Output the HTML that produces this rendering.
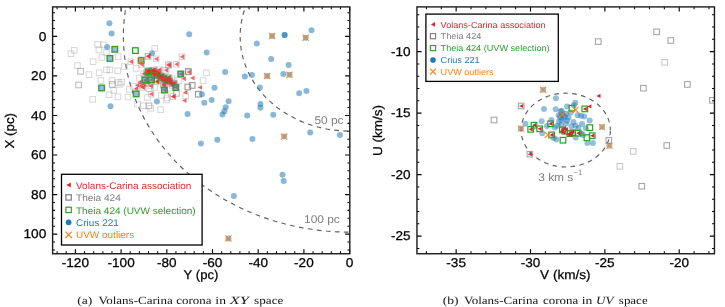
<!DOCTYPE html>
<html><head><meta charset="utf-8"><style>
html,body{margin:0;padding:0;background:#fff;overflow:hidden}
svg{display:block;position:absolute;left:0;top:0}
#m{will-change:transform}
text{font-family:"Liberation Sans",sans-serif;text-rendering:geometricPrecision}
</style></head><body>
<svg id="m" width="725" height="307" viewBox="0 0 725 307">
<clipPath id="cl"><rect x="52.6" y="6.9" width="297.2" height="246.85"/></clipPath>
<clipPath id="cr"><rect x="416.95" y="6.9" width="297.50000000000006" height="246.85"/></clipPath>
<g clip-path="url(#cl)">
<ellipse cx="349.60" cy="36.40" rx="109.45" ry="94.70" fill="none" stroke="#626262" stroke-width="1.15" stroke-dasharray="4.7 4.33" stroke-dashoffset="0.58"/>
<ellipse cx="349.60" cy="36.40" rx="226.22" ry="195.72" fill="none" stroke="#626262" stroke-width="1.15" stroke-dasharray="4.7 4.33" stroke-dashoffset="1.31"/>
<rect x="94.90" y="41.60" width="5.60" height="5.60" fill="none" fill-opacity="0.5" stroke="#7f7f7f" stroke-width="1.0" stroke-opacity="0.31"/>
<rect x="101.20" y="42.10" width="5.60" height="5.60" fill="none" fill-opacity="0.5" stroke="#7f7f7f" stroke-width="1.0" stroke-opacity="0.31"/>
<rect x="96.10" y="47.00" width="5.60" height="5.60" fill="none" fill-opacity="0.5" stroke="#7f7f7f" stroke-width="1.0" stroke-opacity="0.31"/>
<rect x="71.40" y="47.50" width="5.60" height="5.60" fill="none" fill-opacity="0.5" stroke="#7f7f7f" stroke-width="1.0" stroke-opacity="0.31"/>
<rect x="68.20" y="50.90" width="5.60" height="5.60" fill="none" fill-opacity="0.5" stroke="#7f7f7f" stroke-width="1.0" stroke-opacity="0.31"/>
<rect x="99.10" y="54.60" width="5.60" height="5.60" fill="none" fill-opacity="0.5" stroke="#7f7f7f" stroke-width="1.0" stroke-opacity="0.31"/>
<rect x="103.70" y="49.70" width="5.60" height="5.60" fill="none" fill-opacity="0.5" stroke="#7f7f7f" stroke-width="1.0" stroke-opacity="0.31"/>
<rect x="115.40" y="53.80" width="5.60" height="5.60" fill="none" fill-opacity="0.5" stroke="#7f7f7f" stroke-width="1.0" stroke-opacity="0.31"/>
<rect x="90.30" y="58.90" width="5.60" height="5.60" fill="none" fill-opacity="0.5" stroke="#7f7f7f" stroke-width="1.0" stroke-opacity="0.31"/>
<rect x="74.60" y="62.80" width="5.60" height="5.60" fill="none" fill-opacity="0.5" stroke="#7f7f7f" stroke-width="1.0" stroke-opacity="0.31"/>
<rect x="121.60" y="63.80" width="5.60" height="5.60" fill="none" fill-opacity="0.5" stroke="#7f7f7f" stroke-width="1.0" stroke-opacity="0.31"/>
<rect x="152.00" y="45.60" width="5.60" height="5.60" fill="none" fill-opacity="0.5" stroke="#7f7f7f" stroke-width="1.0" stroke-opacity="0.31"/>
<rect x="133.40" y="65.70" width="5.60" height="5.60" fill="none" fill-opacity="0.5" stroke="#7f7f7f" stroke-width="1.0" stroke-opacity="0.31"/>
<rect x="77.80" y="68.50" width="5.60" height="5.60" fill="none" fill-opacity="0.5" stroke="#7f7f7f" stroke-width="1.0" stroke-opacity="0.31"/>
<rect x="77.80" y="68.50" width="5.60" height="5.60" fill="none" fill-opacity="0.5" stroke="#7f7f7f" stroke-width="1.0" stroke-opacity="0.31"/>
<rect x="86.10" y="71.80" width="5.60" height="5.60" fill="none" fill-opacity="0.5" stroke="#7f7f7f" stroke-width="1.0" stroke-opacity="0.31"/>
<rect x="96.30" y="70.00" width="5.60" height="5.60" fill="none" fill-opacity="0.5" stroke="#7f7f7f" stroke-width="1.0" stroke-opacity="0.31"/>
<rect x="103.70" y="67.10" width="5.60" height="5.60" fill="none" fill-opacity="0.5" stroke="#7f7f7f" stroke-width="1.0" stroke-opacity="0.31"/>
<rect x="107.10" y="67.10" width="5.60" height="5.60" fill="none" fill-opacity="0.5" stroke="#7f7f7f" stroke-width="1.0" stroke-opacity="0.31"/>
<rect x="114.90" y="68.00" width="5.60" height="5.60" fill="none" fill-opacity="0.5" stroke="#7f7f7f" stroke-width="1.0" stroke-opacity="0.31"/>
<rect x="98.10" y="77.80" width="5.60" height="5.60" fill="none" fill-opacity="0.5" stroke="#7f7f7f" stroke-width="1.0" stroke-opacity="0.31"/>
<rect x="109.10" y="77.80" width="5.60" height="5.60" fill="none" fill-opacity="0.5" stroke="#7f7f7f" stroke-width="1.0" stroke-opacity="0.31"/>
<rect x="109.50" y="81.70" width="5.60" height="5.60" fill="none" fill-opacity="0.5" stroke="#7f7f7f" stroke-width="1.0" stroke-opacity="0.31"/>
<rect x="109.50" y="81.70" width="5.60" height="5.60" fill="none" fill-opacity="0.5" stroke="#7f7f7f" stroke-width="1.0" stroke-opacity="0.31"/>
<rect x="115.40" y="79.80" width="5.60" height="5.60" fill="none" fill-opacity="0.5" stroke="#7f7f7f" stroke-width="1.0" stroke-opacity="0.31"/>
<rect x="118.80" y="79.30" width="5.60" height="5.60" fill="none" fill-opacity="0.5" stroke="#7f7f7f" stroke-width="1.0" stroke-opacity="0.31"/>
<rect x="75.80" y="82.20" width="5.60" height="5.60" fill="none" fill-opacity="0.5" stroke="#7f7f7f" stroke-width="1.0" stroke-opacity="0.31"/>
<rect x="75.80" y="82.20" width="5.60" height="5.60" fill="none" fill-opacity="0.5" stroke="#7f7f7f" stroke-width="1.0" stroke-opacity="0.31"/>
<rect x="111.00" y="87.60" width="5.60" height="5.60" fill="none" fill-opacity="0.5" stroke="#7f7f7f" stroke-width="1.0" stroke-opacity="0.31"/>
<rect x="126.60" y="86.60" width="5.60" height="5.60" fill="none" fill-opacity="0.5" stroke="#7f7f7f" stroke-width="1.0" stroke-opacity="0.31"/>
<rect x="89.90" y="96.60" width="5.60" height="5.60" fill="none" fill-opacity="0.5" stroke="#7f7f7f" stroke-width="1.0" stroke-opacity="0.31"/>
<rect x="106.30" y="91.90" width="5.60" height="5.60" fill="none" fill-opacity="0.5" stroke="#7f7f7f" stroke-width="1.0" stroke-opacity="0.31"/>
<rect x="115.10" y="94.00" width="5.60" height="5.60" fill="none" fill-opacity="0.5" stroke="#7f7f7f" stroke-width="1.0" stroke-opacity="0.31"/>
<rect x="134.70" y="101.30" width="5.60" height="5.60" fill="none" fill-opacity="0.5" stroke="#7f7f7f" stroke-width="1.0" stroke-opacity="0.31"/>
<rect x="117.20" y="81.60" width="5.60" height="5.60" fill="none" fill-opacity="0.5" stroke="#7f7f7f" stroke-width="1.0" stroke-opacity="0.31"/>
<rect x="140.40" y="103.00" width="5.60" height="5.60" fill="none" fill-opacity="0.5" stroke="#7f7f7f" stroke-width="1.0" stroke-opacity="0.31"/>
<rect x="146.20" y="103.00" width="5.60" height="5.60" fill="none" fill-opacity="0.5" stroke="#7f7f7f" stroke-width="1.0" stroke-opacity="0.31"/>
<rect x="146.20" y="103.00" width="5.60" height="5.60" fill="none" fill-opacity="0.5" stroke="#7f7f7f" stroke-width="1.0" stroke-opacity="0.31"/>
<rect x="147.90" y="105.50" width="5.60" height="5.60" fill="none" fill-opacity="0.5" stroke="#7f7f7f" stroke-width="1.0" stroke-opacity="0.31"/>
<rect x="157.80" y="106.80" width="5.60" height="5.60" fill="none" fill-opacity="0.5" stroke="#7f7f7f" stroke-width="1.0" stroke-opacity="0.31"/>
<rect x="163.60" y="97.20" width="5.60" height="5.60" fill="none" fill-opacity="0.5" stroke="#7f7f7f" stroke-width="1.0" stroke-opacity="0.31"/>
<rect x="144.60" y="94.70" width="5.60" height="5.60" fill="none" fill-opacity="0.5" stroke="#7f7f7f" stroke-width="1.0" stroke-opacity="0.31"/>
<rect x="164.40" y="95.10" width="5.60" height="5.60" fill="none" fill-opacity="0.5" stroke="#7f7f7f" stroke-width="1.0" stroke-opacity="0.31"/>
<rect x="173.50" y="90.50" width="5.60" height="5.60" fill="none" fill-opacity="0.5" stroke="#7f7f7f" stroke-width="1.0" stroke-opacity="0.31"/>
<rect x="158.60" y="92.60" width="5.60" height="5.60" fill="none" fill-opacity="0.5" stroke="#7f7f7f" stroke-width="1.0" stroke-opacity="0.31"/>
<rect x="130.50" y="83.50" width="5.60" height="5.60" fill="none" fill-opacity="0.5" stroke="#7f7f7f" stroke-width="1.0" stroke-opacity="0.31"/>
<rect x="136.70" y="75.30" width="5.60" height="5.60" fill="none" fill-opacity="0.5" stroke="#7f7f7f" stroke-width="1.0" stroke-opacity="0.31"/>
<rect x="169.00" y="75.80" width="5.60" height="5.60" fill="none" fill-opacity="0.5" stroke="#7f7f7f" stroke-width="1.0" stroke-opacity="0.31"/>
<rect x="176.00" y="77.80" width="5.60" height="5.60" fill="none" fill-opacity="0.5" stroke="#7f7f7f" stroke-width="1.0" stroke-opacity="0.31"/>
<rect x="182.90" y="93.30" width="5.60" height="5.60" fill="none" fill-opacity="0.5" stroke="#7f7f7f" stroke-width="1.0" stroke-opacity="0.31"/>
<rect x="173.80" y="90.80" width="5.60" height="5.60" fill="none" fill-opacity="0.5" stroke="#7f7f7f" stroke-width="1.0" stroke-opacity="0.31"/>
<rect x="168.40" y="90.80" width="5.60" height="5.60" fill="none" fill-opacity="0.5" stroke="#7f7f7f" stroke-width="1.0" stroke-opacity="0.31"/>
<rect x="203.60" y="70.00" width="5.60" height="5.60" fill="none" fill-opacity="0.5" stroke="#7f7f7f" stroke-width="1.0" stroke-opacity="0.31"/>
<rect x="200.30" y="77.80" width="5.60" height="5.60" fill="none" fill-opacity="0.5" stroke="#7f7f7f" stroke-width="1.0" stroke-opacity="0.31"/>
<rect x="146.20" y="86.00" width="5.60" height="5.60" fill="none" fill-opacity="0.5" stroke="#7f7f7f" stroke-width="1.0" stroke-opacity="0.31"/>
<rect x="152.00" y="84.60" width="5.60" height="5.60" fill="none" fill-opacity="0.5" stroke="#7f7f7f" stroke-width="1.0" stroke-opacity="0.31"/>
<rect x="125.20" y="94.20" width="5.60" height="5.60" fill="none" fill-opacity="0.5" stroke="#7f7f7f" stroke-width="1.0" stroke-opacity="0.31"/>
<rect x="128.10" y="59.00" width="5.60" height="5.60" fill="none" fill-opacity="0.5" stroke="#7f7f7f" stroke-width="1.0" stroke-opacity="0.35"/>
<rect x="145.20" y="53.50" width="5.60" height="5.60" fill="none" fill-opacity="0.5" stroke="#7f7f7f" stroke-width="1.0" stroke-opacity="0.35"/>
<rect x="145.20" y="53.50" width="5.60" height="5.60" fill="none" fill-opacity="0.5" stroke="#7f7f7f" stroke-width="1.0" stroke-opacity="0.35"/>
<rect x="153.40" y="56.10" width="5.60" height="5.60" fill="none" fill-opacity="0.5" stroke="#7f7f7f" stroke-width="1.0" stroke-opacity="0.35"/>
<rect x="179.20" y="54.00" width="5.60" height="5.60" fill="none" fill-opacity="0.5" stroke="#7f7f7f" stroke-width="1.0" stroke-opacity="0.35"/>
<rect x="165.70" y="61.60" width="5.60" height="5.60" fill="none" fill-opacity="0.5" stroke="#7f7f7f" stroke-width="1.0" stroke-opacity="0.35"/>
<rect x="173.70" y="61.50" width="5.60" height="5.60" fill="none" fill-opacity="0.5" stroke="#7f7f7f" stroke-width="1.0" stroke-opacity="0.35"/>
<rect x="185.80" y="69.10" width="5.60" height="5.60" fill="none" fill-opacity="0.5" stroke="#7f7f7f" stroke-width="1.0" stroke-opacity="0.35"/>
<rect x="145.90" y="68.80" width="5.60" height="5.60" fill="none" fill-opacity="0.5" stroke="#7f7f7f" stroke-width="1.0" stroke-opacity="0.35"/>
<rect x="146.70" y="69.40" width="5.60" height="5.60" fill="none" fill-opacity="0.5" stroke="#7f7f7f" stroke-width="1.0" stroke-opacity="0.35"/>
<rect x="149.10" y="67.60" width="5.60" height="5.60" fill="none" fill-opacity="0.5" stroke="#7f7f7f" stroke-width="1.0" stroke-opacity="0.35"/>
<rect x="151.10" y="66.90" width="5.60" height="5.60" fill="none" fill-opacity="0.5" stroke="#7f7f7f" stroke-width="1.0" stroke-opacity="0.35"/>
<rect x="156.60" y="66.90" width="5.60" height="5.60" fill="none" fill-opacity="0.5" stroke="#7f7f7f" stroke-width="1.0" stroke-opacity="0.35"/>
<rect x="163.20" y="67.50" width="5.60" height="5.60" fill="none" fill-opacity="0.5" stroke="#7f7f7f" stroke-width="1.0" stroke-opacity="0.35"/>
<rect x="153.70" y="71.80" width="5.60" height="5.60" fill="none" fill-opacity="0.5" stroke="#7f7f7f" stroke-width="1.0" stroke-opacity="0.35"/>
<rect x="153.80" y="71.10" width="5.60" height="5.60" fill="none" fill-opacity="0.5" stroke="#7f7f7f" stroke-width="1.0" stroke-opacity="0.35"/>
<rect x="155.40" y="70.90" width="5.60" height="5.60" fill="none" fill-opacity="0.5" stroke="#7f7f7f" stroke-width="1.0" stroke-opacity="0.35"/>
<rect x="157.80" y="73.00" width="5.60" height="5.60" fill="none" fill-opacity="0.5" stroke="#7f7f7f" stroke-width="1.0" stroke-opacity="0.35"/>
<rect x="159.40" y="73.30" width="5.60" height="5.60" fill="none" fill-opacity="0.5" stroke="#7f7f7f" stroke-width="1.0" stroke-opacity="0.35"/>
<rect x="162.00" y="74.20" width="5.60" height="5.60" fill="none" fill-opacity="0.5" stroke="#7f7f7f" stroke-width="1.0" stroke-opacity="0.35"/>
<rect x="164.90" y="75.50" width="5.60" height="5.60" fill="none" fill-opacity="0.5" stroke="#7f7f7f" stroke-width="1.0" stroke-opacity="0.35"/>
<rect x="165.90" y="74.50" width="5.60" height="5.60" fill="none" fill-opacity="0.5" stroke="#7f7f7f" stroke-width="1.0" stroke-opacity="0.35"/>
<rect x="148.20" y="69.50" width="5.60" height="5.60" fill="none" fill-opacity="0.5" stroke="#7f7f7f" stroke-width="1.0" stroke-opacity="0.35"/>
<rect x="141.00" y="70.90" width="5.60" height="5.60" fill="none" fill-opacity="0.5" stroke="#7f7f7f" stroke-width="1.0" stroke-opacity="0.35"/>
<rect x="152.60" y="70.60" width="5.60" height="5.60" fill="none" fill-opacity="0.5" stroke="#7f7f7f" stroke-width="1.0" stroke-opacity="0.35"/>
<rect x="143.70" y="69.70" width="5.60" height="5.60" fill="none" fill-opacity="0.5" stroke="#7f7f7f" stroke-width="1.0" stroke-opacity="0.35"/>
<rect x="150.70" y="70.00" width="5.60" height="5.60" fill="none" fill-opacity="0.5" stroke="#7f7f7f" stroke-width="1.0" stroke-opacity="0.35"/>
<rect x="155.70" y="72.70" width="5.60" height="5.60" fill="none" fill-opacity="0.5" stroke="#7f7f7f" stroke-width="1.0" stroke-opacity="0.35"/>
<rect x="160.70" y="75.20" width="5.60" height="5.60" fill="none" fill-opacity="0.5" stroke="#7f7f7f" stroke-width="1.0" stroke-opacity="0.35"/>
<rect x="163.70" y="77.20" width="5.60" height="5.60" fill="none" fill-opacity="0.5" stroke="#7f7f7f" stroke-width="1.0" stroke-opacity="0.35"/>
<rect x="166.70" y="76.70" width="5.60" height="5.60" fill="none" fill-opacity="0.5" stroke="#7f7f7f" stroke-width="1.0" stroke-opacity="0.35"/>
<rect x="144.70" y="68.20" width="5.60" height="5.60" fill="none" fill-opacity="0.5" stroke="#7f7f7f" stroke-width="1.0" stroke-opacity="0.35"/>
<rect x="147.20" y="70.70" width="5.60" height="5.60" fill="none" fill-opacity="0.5" stroke="#7f7f7f" stroke-width="1.0" stroke-opacity="0.35"/>
<rect x="151.70" y="72.70" width="5.60" height="5.60" fill="none" fill-opacity="0.5" stroke="#7f7f7f" stroke-width="1.0" stroke-opacity="0.35"/>
<rect x="154.70" y="74.20" width="5.60" height="5.60" fill="none" fill-opacity="0.5" stroke="#7f7f7f" stroke-width="1.0" stroke-opacity="0.35"/>
<rect x="158.20" y="76.20" width="5.60" height="5.60" fill="none" fill-opacity="0.5" stroke="#7f7f7f" stroke-width="1.0" stroke-opacity="0.35"/>
<rect x="162.20" y="78.20" width="5.60" height="5.60" fill="none" fill-opacity="0.5" stroke="#7f7f7f" stroke-width="1.0" stroke-opacity="0.35"/>
<rect x="165.70" y="79.20" width="5.60" height="5.60" fill="none" fill-opacity="0.5" stroke="#7f7f7f" stroke-width="1.0" stroke-opacity="0.35"/>
<rect x="167.70" y="78.20" width="5.60" height="5.60" fill="none" fill-opacity="0.5" stroke="#7f7f7f" stroke-width="1.0" stroke-opacity="0.35"/>
<rect x="167.20" y="80.40" width="5.60" height="5.60" fill="none" fill-opacity="0.5" stroke="#7f7f7f" stroke-width="1.0" stroke-opacity="0.35"/>
<rect x="169.20" y="81.20" width="5.60" height="5.60" fill="none" fill-opacity="0.5" stroke="#7f7f7f" stroke-width="1.0" stroke-opacity="0.35"/>
<rect x="163.20" y="79.70" width="5.60" height="5.60" fill="none" fill-opacity="0.5" stroke="#7f7f7f" stroke-width="1.0" stroke-opacity="0.35"/>
<rect x="159.20" y="77.70" width="5.60" height="5.60" fill="none" fill-opacity="0.5" stroke="#7f7f7f" stroke-width="1.0" stroke-opacity="0.35"/>
<rect x="149.70" y="68.20" width="5.60" height="5.60" fill="none" fill-opacity="0.5" stroke="#7f7f7f" stroke-width="1.0" stroke-opacity="0.35"/>
<rect x="154.20" y="69.20" width="5.60" height="5.60" fill="none" fill-opacity="0.5" stroke="#7f7f7f" stroke-width="1.0" stroke-opacity="0.35"/>
<rect x="146.20" y="67.70" width="5.60" height="5.60" fill="none" fill-opacity="0.5" stroke="#7f7f7f" stroke-width="1.0" stroke-opacity="0.35"/>
<rect x="152.20" y="68.70" width="5.60" height="5.60" fill="none" fill-opacity="0.5" stroke="#7f7f7f" stroke-width="1.0" stroke-opacity="0.35"/>
<rect x="155.20" y="71.70" width="5.60" height="5.60" fill="none" fill-opacity="0.5" stroke="#7f7f7f" stroke-width="1.0" stroke-opacity="0.35"/>
<rect x="158.70" y="73.70" width="5.60" height="5.60" fill="none" fill-opacity="0.5" stroke="#7f7f7f" stroke-width="1.0" stroke-opacity="0.35"/>
<rect x="161.20" y="76.70" width="5.60" height="5.60" fill="none" fill-opacity="0.5" stroke="#7f7f7f" stroke-width="1.0" stroke-opacity="0.35"/>
<rect x="164.20" y="78.20" width="5.60" height="5.60" fill="none" fill-opacity="0.5" stroke="#7f7f7f" stroke-width="1.0" stroke-opacity="0.35"/>
<rect x="157.20" y="74.70" width="5.60" height="5.60" fill="none" fill-opacity="0.5" stroke="#7f7f7f" stroke-width="1.0" stroke-opacity="0.35"/>
<rect x="150.20" y="71.20" width="5.60" height="5.60" fill="none" fill-opacity="0.5" stroke="#7f7f7f" stroke-width="1.0" stroke-opacity="0.35"/>
<rect x="144.20" y="71.70" width="5.60" height="5.60" fill="none" fill-opacity="0.5" stroke="#7f7f7f" stroke-width="1.0" stroke-opacity="0.35"/>
<rect x="138.20" y="83.20" width="5.60" height="5.60" fill="none" fill-opacity="0.5" stroke="#7f7f7f" stroke-width="1.0" stroke-opacity="0.35"/>
<rect x="140.70" y="81.20" width="5.60" height="5.60" fill="none" fill-opacity="0.5" stroke="#7f7f7f" stroke-width="1.0" stroke-opacity="0.35"/>
<rect x="144.70" y="80.20" width="5.60" height="5.60" fill="none" fill-opacity="0.5" stroke="#7f7f7f" stroke-width="1.0" stroke-opacity="0.35"/>
<rect x="142.10" y="77.10" width="5.60" height="5.60" fill="none" fill-opacity="0.5" stroke="#7f7f7f" stroke-width="1.0" stroke-opacity="0.35"/>
<rect x="148.70" y="77.10" width="5.60" height="5.60" fill="none" fill-opacity="0.5" stroke="#7f7f7f" stroke-width="1.0" stroke-opacity="0.35"/>
<rect x="178.00" y="71.20" width="5.60" height="5.60" fill="none" fill-opacity="0.5" stroke="#7f7f7f" stroke-width="1.0" stroke-opacity="0.35"/>
<rect x="154.10" y="78.50" width="5.60" height="5.60" fill="none" fill-opacity="0.5" stroke="#7f7f7f" stroke-width="1.0" stroke-opacity="0.35"/>
<rect x="140.00" y="84.70" width="5.60" height="5.60" fill="none" fill-opacity="0.5" stroke="#7f7f7f" stroke-width="1.0" stroke-opacity="0.35"/>
<rect x="147.90" y="83.10" width="5.60" height="5.60" fill="none" fill-opacity="0.5" stroke="#7f7f7f" stroke-width="1.0" stroke-opacity="0.35"/>
<rect x="160.70" y="82.70" width="5.60" height="5.60" fill="none" fill-opacity="0.5" stroke="#7f7f7f" stroke-width="1.0" stroke-opacity="0.35"/>
<rect x="161.50" y="87.20" width="5.60" height="5.60" fill="none" fill-opacity="0.5" stroke="#7f7f7f" stroke-width="1.0" stroke-opacity="0.35"/>
<rect x="169.40" y="82.70" width="5.60" height="5.60" fill="none" fill-opacity="0.5" stroke="#7f7f7f" stroke-width="1.0" stroke-opacity="0.35"/>
<rect x="171.90" y="80.20" width="5.60" height="5.60" fill="none" fill-opacity="0.5" stroke="#7f7f7f" stroke-width="1.0" stroke-opacity="0.35"/>
<rect x="173.10" y="84.70" width="5.60" height="5.60" fill="none" fill-opacity="0.5" stroke="#7f7f7f" stroke-width="1.0" stroke-opacity="0.35"/>
<rect x="148.30" y="91.30" width="5.60" height="5.60" fill="none" fill-opacity="0.5" stroke="#7f7f7f" stroke-width="1.0" stroke-opacity="0.35"/>
<rect x="170.20" y="93.80" width="5.60" height="5.60" fill="none" fill-opacity="0.5" stroke="#7f7f7f" stroke-width="1.0" stroke-opacity="0.35"/>
<rect x="138.80" y="61.70" width="5.60" height="5.60" fill="none" fill-opacity="0.5" stroke="#7f7f7f" stroke-width="1.0" stroke-opacity="0.35"/>
<rect x="160.30" y="81.60" width="5.60" height="5.60" fill="none" fill-opacity="0.5" stroke="#7f7f7f" stroke-width="1.0" stroke-opacity="0.35"/>
<rect x="170.20" y="80.70" width="5.60" height="5.60" fill="none" fill-opacity="0.5" stroke="#7f7f7f" stroke-width="1.0" stroke-opacity="0.35"/>
<rect x="166.00" y="62.80" width="5.60" height="5.60" fill="none" fill-opacity="0.5" stroke="#7f7f7f" stroke-width="1.0" stroke-opacity="0.35"/>
<rect x="185.50" y="68.70" width="5.60" height="5.60" fill="none" fill-opacity="0.5" stroke="#7f7f7f" stroke-width="1.1" stroke-opacity="0.8"/>
<rect x="185.00" y="84.20" width="5.60" height="5.60" fill="none" fill-opacity="0.5" stroke="#7f7f7f" stroke-width="1.1" stroke-opacity="0.8"/>
<rect x="189.40" y="82.60" width="5.60" height="5.60" fill="none" fill-opacity="0.5" stroke="#7f7f7f" stroke-width="1.1" stroke-opacity="0.8"/>
<rect x="195.50" y="91.40" width="5.60" height="5.60" fill="none" fill-opacity="0.5" stroke="#7f7f7f" stroke-width="1.1" stroke-opacity="0.8"/>
<circle cx="109.40" cy="23.20" r="3.0" fill="#1f77b4" fill-opacity="0.53"/>
<circle cx="111.60" cy="33.60" r="3.0" fill="#1f77b4" fill-opacity="0.53"/>
<circle cx="107.10" cy="47.10" r="3.0" fill="#1f77b4" fill-opacity="0.53"/>
<circle cx="189.20" cy="34.20" r="3.0" fill="#1f77b4" fill-opacity="0.53"/>
<circle cx="152.10" cy="53.30" r="3.0" fill="#1f77b4" fill-opacity="0.53"/>
<circle cx="206.60" cy="52.40" r="3.0" fill="#1f77b4" fill-opacity="0.53"/>
<circle cx="110.50" cy="106.20" r="3.0" fill="#1f77b4" fill-opacity="0.53"/>
<circle cx="225.10" cy="72.00" r="3.0" fill="#1f77b4" fill-opacity="0.53"/>
<circle cx="214.50" cy="87.80" r="3.0" fill="#1f77b4" fill-opacity="0.53"/>
<circle cx="201.90" cy="94.30" r="3.0" fill="#1f77b4" fill-opacity="0.53"/>
<circle cx="204.30" cy="102.80" r="3.0" fill="#1f77b4" fill-opacity="0.53"/>
<circle cx="211.70" cy="100.10" r="3.0" fill="#1f77b4" fill-opacity="0.53"/>
<circle cx="228.60" cy="101.30" r="3.0" fill="#1f77b4" fill-opacity="0.53"/>
<circle cx="225.70" cy="107.20" r="3.0" fill="#1f77b4" fill-opacity="0.53"/>
<circle cx="224.40" cy="111.20" r="3.0" fill="#1f77b4" fill-opacity="0.53"/>
<circle cx="222.40" cy="114.50" r="3.0" fill="#1f77b4" fill-opacity="0.53"/>
<circle cx="247.20" cy="115.60" r="3.0" fill="#1f77b4" fill-opacity="0.53"/>
<circle cx="259.90" cy="87.50" r="3.0" fill="#1f77b4" fill-opacity="0.53"/>
<circle cx="260.40" cy="104.00" r="3.0" fill="#1f77b4" fill-opacity="0.53"/>
<circle cx="260.40" cy="107.80" r="3.0" fill="#1f77b4" fill-opacity="0.53"/>
<circle cx="273.30" cy="114.80" r="3.0" fill="#1f77b4" fill-opacity="0.53"/>
<circle cx="299.20" cy="93.30" r="3.0" fill="#1f77b4" fill-opacity="0.53"/>
<circle cx="306.50" cy="90.90" r="3.0" fill="#1f77b4" fill-opacity="0.53"/>
<circle cx="310.20" cy="132.40" r="3.0" fill="#1f77b4" fill-opacity="0.53"/>
<circle cx="187.60" cy="114.10" r="3.0" fill="#1f77b4" fill-opacity="0.53"/>
<circle cx="217.30" cy="139.70" r="3.0" fill="#1f77b4" fill-opacity="0.53"/>
<circle cx="200.90" cy="143.50" r="3.0" fill="#1f77b4" fill-opacity="0.53"/>
<circle cx="156.90" cy="101.40" r="3.0" fill="#1f77b4" fill-opacity="0.53"/>
<circle cx="256.80" cy="43.40" r="3.0" fill="#1f77b4" fill-opacity="0.53"/>
<circle cx="272.10" cy="36.10" r="3.0" fill="#1f77b4" fill-opacity="0.53"/>
<circle cx="284.60" cy="35.10" r="3.0" fill="#1f77b4" fill-opacity="0.53"/>
<circle cx="284.60" cy="35.10" r="3.0" fill="#1f77b4" fill-opacity="0.53"/>
<circle cx="305.70" cy="37.70" r="3.0" fill="#1f77b4" fill-opacity="0.53"/>
<circle cx="311.50" cy="30.30" r="3.0" fill="#1f77b4" fill-opacity="0.53"/>
<circle cx="271.20" cy="59.10" r="3.0" fill="#1f77b4" fill-opacity="0.53"/>
<circle cx="288.60" cy="64.90" r="3.0" fill="#1f77b4" fill-opacity="0.53"/>
<circle cx="244.90" cy="76.50" r="3.0" fill="#1f77b4" fill-opacity="0.53"/>
<circle cx="251.90" cy="75.10" r="3.0" fill="#1f77b4" fill-opacity="0.53"/>
<circle cx="267.10" cy="76.10" r="3.0" fill="#1f77b4" fill-opacity="0.53"/>
<circle cx="283.30" cy="74.10" r="3.0" fill="#1f77b4" fill-opacity="0.53"/>
<circle cx="289.50" cy="74.80" r="3.0" fill="#1f77b4" fill-opacity="0.53"/>
<circle cx="252.40" cy="139.10" r="3.0" fill="#1f77b4" fill-opacity="0.53"/>
<circle cx="284.20" cy="136.60" r="3.0" fill="#1f77b4" fill-opacity="0.53"/>
<circle cx="339.90" cy="134.90" r="3.0" fill="#1f77b4" fill-opacity="0.53"/>
<circle cx="282.50" cy="174.80" r="3.0" fill="#1f77b4" fill-opacity="0.53"/>
<circle cx="283.70" cy="181.10" r="3.0" fill="#1f77b4" fill-opacity="0.53"/>
<circle cx="233.90" cy="196.00" r="3.0" fill="#1f77b4" fill-opacity="0.53"/>
<circle cx="228.40" cy="238.40" r="3.0" fill="#1f77b4" fill-opacity="0.53"/>
<path d="M128.65 61.80L133.15 59.35L133.15 64.25Z" fill="#e8282c" fill-opacity="0.7"/>
<path d="M145.75 56.30L150.25 53.85L150.25 58.75Z" fill="#e8282c" fill-opacity="0.7"/>
<path d="M145.75 56.30L150.25 53.85L150.25 58.75Z" fill="#e8282c" fill-opacity="0.7"/>
<path d="M153.95 58.90L158.45 56.45L158.45 61.35Z" fill="#e8282c" fill-opacity="0.7"/>
<path d="M179.75 56.80L184.25 54.35L184.25 59.25Z" fill="#e8282c" fill-opacity="0.7"/>
<path d="M166.25 64.40L170.75 61.95L170.75 66.85Z" fill="#e8282c" fill-opacity="0.7"/>
<path d="M174.25 64.30L178.75 61.85L178.75 66.75Z" fill="#e8282c" fill-opacity="0.7"/>
<path d="M186.35 71.90L190.85 69.45L190.85 74.35Z" fill="#e8282c" fill-opacity="0.7"/>
<path d="M146.45 71.60L150.95 69.15L150.95 74.05Z" fill="#e8282c" fill-opacity="0.7"/>
<path d="M147.25 72.20L151.75 69.75L151.75 74.65Z" fill="#e8282c" fill-opacity="0.7"/>
<path d="M149.65 70.40L154.15 67.95L154.15 72.85Z" fill="#e8282c" fill-opacity="0.7"/>
<path d="M151.65 69.70L156.15 67.25L156.15 72.15Z" fill="#e8282c" fill-opacity="0.7"/>
<path d="M157.15 69.70L161.65 67.25L161.65 72.15Z" fill="#e8282c" fill-opacity="0.7"/>
<path d="M163.75 70.30L168.25 67.85L168.25 72.75Z" fill="#e8282c" fill-opacity="0.7"/>
<path d="M154.25 74.60L158.75 72.15L158.75 77.05Z" fill="#e8282c" fill-opacity="0.7"/>
<path d="M154.35 73.90L158.85 71.45L158.85 76.35Z" fill="#e8282c" fill-opacity="0.7"/>
<path d="M155.95 73.70L160.45 71.25L160.45 76.15Z" fill="#e8282c" fill-opacity="0.7"/>
<path d="M158.35 75.80L162.85 73.35L162.85 78.25Z" fill="#e8282c" fill-opacity="0.7"/>
<path d="M159.95 76.10L164.45 73.65L164.45 78.55Z" fill="#e8282c" fill-opacity="0.7"/>
<path d="M162.55 77.00L167.05 74.55L167.05 79.45Z" fill="#e8282c" fill-opacity="0.7"/>
<path d="M165.45 78.30L169.95 75.85L169.95 80.75Z" fill="#e8282c" fill-opacity="0.7"/>
<path d="M166.45 77.30L170.95 74.85L170.95 79.75Z" fill="#e8282c" fill-opacity="0.7"/>
<path d="M148.75 72.30L153.25 69.85L153.25 74.75Z" fill="#e8282c" fill-opacity="0.7"/>
<path d="M141.55 73.70L146.05 71.25L146.05 76.15Z" fill="#e8282c" fill-opacity="0.7"/>
<path d="M153.15 73.40L157.65 70.95L157.65 75.85Z" fill="#e8282c" fill-opacity="0.7"/>
<path d="M144.25 72.50L148.75 70.05L148.75 74.95Z" fill="#e8282c" fill-opacity="0.7"/>
<path d="M151.25 72.80L155.75 70.35L155.75 75.25Z" fill="#e8282c" fill-opacity="0.7"/>
<path d="M156.25 75.50L160.75 73.05L160.75 77.95Z" fill="#e8282c" fill-opacity="0.7"/>
<path d="M161.25 78.00L165.75 75.55L165.75 80.45Z" fill="#e8282c" fill-opacity="0.7"/>
<path d="M164.25 80.00L168.75 77.55L168.75 82.45Z" fill="#e8282c" fill-opacity="0.7"/>
<path d="M167.25 79.50L171.75 77.05L171.75 81.95Z" fill="#e8282c" fill-opacity="0.7"/>
<path d="M145.25 71.00L149.75 68.55L149.75 73.45Z" fill="#e8282c" fill-opacity="0.7"/>
<path d="M147.75 73.50L152.25 71.05L152.25 75.95Z" fill="#e8282c" fill-opacity="0.7"/>
<path d="M152.25 75.50L156.75 73.05L156.75 77.95Z" fill="#e8282c" fill-opacity="0.7"/>
<path d="M155.25 77.00L159.75 74.55L159.75 79.45Z" fill="#e8282c" fill-opacity="0.7"/>
<path d="M158.75 79.00L163.25 76.55L163.25 81.45Z" fill="#e8282c" fill-opacity="0.7"/>
<path d="M162.75 81.00L167.25 78.55L167.25 83.45Z" fill="#e8282c" fill-opacity="0.7"/>
<path d="M166.25 82.00L170.75 79.55L170.75 84.45Z" fill="#e8282c" fill-opacity="0.7"/>
<path d="M168.25 81.00L172.75 78.55L172.75 83.45Z" fill="#e8282c" fill-opacity="0.7"/>
<path d="M167.75 83.20L172.25 80.75L172.25 85.65Z" fill="#e8282c" fill-opacity="0.7"/>
<path d="M169.75 84.00L174.25 81.55L174.25 86.45Z" fill="#e8282c" fill-opacity="0.7"/>
<path d="M163.75 82.50L168.25 80.05L168.25 84.95Z" fill="#e8282c" fill-opacity="0.7"/>
<path d="M159.75 80.50L164.25 78.05L164.25 82.95Z" fill="#e8282c" fill-opacity="0.7"/>
<path d="M150.25 71.00L154.75 68.55L154.75 73.45Z" fill="#e8282c" fill-opacity="0.7"/>
<path d="M154.75 72.00L159.25 69.55L159.25 74.45Z" fill="#e8282c" fill-opacity="0.7"/>
<path d="M146.75 70.50L151.25 68.05L151.25 72.95Z" fill="#e8282c" fill-opacity="0.7"/>
<path d="M152.75 71.50L157.25 69.05L157.25 73.95Z" fill="#e8282c" fill-opacity="0.7"/>
<path d="M155.75 74.50L160.25 72.05L160.25 76.95Z" fill="#e8282c" fill-opacity="0.7"/>
<path d="M159.25 76.50L163.75 74.05L163.75 78.95Z" fill="#e8282c" fill-opacity="0.7"/>
<path d="M161.75 79.50L166.25 77.05L166.25 81.95Z" fill="#e8282c" fill-opacity="0.7"/>
<path d="M164.75 81.00L169.25 78.55L169.25 83.45Z" fill="#e8282c" fill-opacity="0.7"/>
<path d="M157.75 77.50L162.25 75.05L162.25 79.95Z" fill="#e8282c" fill-opacity="0.7"/>
<path d="M150.75 74.00L155.25 71.55L155.25 76.45Z" fill="#e8282c" fill-opacity="0.7"/>
<path d="M144.75 74.50L149.25 72.05L149.25 76.95Z" fill="#e8282c" fill-opacity="0.7"/>
<path d="M138.75 86.00L143.25 83.55L143.25 88.45Z" fill="#e8282c" fill-opacity="0.7"/>
<path d="M141.25 84.00L145.75 81.55L145.75 86.45Z" fill="#e8282c" fill-opacity="0.7"/>
<path d="M145.25 83.00L149.75 80.55L149.75 85.45Z" fill="#e8282c" fill-opacity="0.7"/>
<path d="M142.65 79.90L147.15 77.45L147.15 82.35Z" fill="#e8282c" fill-opacity="0.7"/>
<path d="M149.25 79.90L153.75 77.45L153.75 82.35Z" fill="#e8282c" fill-opacity="0.7"/>
<path d="M178.55 74.00L183.05 71.55L183.05 76.45Z" fill="#e8282c" fill-opacity="0.7"/>
<path d="M154.65 81.30L159.15 78.85L159.15 83.75Z" fill="#e8282c" fill-opacity="0.7"/>
<path d="M140.55 87.50L145.05 85.05L145.05 89.95Z" fill="#e8282c" fill-opacity="0.7"/>
<path d="M148.45 85.90L152.95 83.45L152.95 88.35Z" fill="#e8282c" fill-opacity="0.7"/>
<path d="M161.25 85.50L165.75 83.05L165.75 87.95Z" fill="#e8282c" fill-opacity="0.7"/>
<path d="M162.05 90.00L166.55 87.55L166.55 92.45Z" fill="#e8282c" fill-opacity="0.7"/>
<path d="M169.95 85.50L174.45 83.05L174.45 87.95Z" fill="#e8282c" fill-opacity="0.7"/>
<path d="M172.45 83.00L176.95 80.55L176.95 85.45Z" fill="#e8282c" fill-opacity="0.7"/>
<path d="M173.65 87.50L178.15 85.05L178.15 89.95Z" fill="#e8282c" fill-opacity="0.7"/>
<path d="M148.85 94.10L153.35 91.65L153.35 96.55Z" fill="#e8282c" fill-opacity="0.7"/>
<path d="M170.75 96.60L175.25 94.15L175.25 99.05Z" fill="#e8282c" fill-opacity="0.7"/>
<path d="M139.35 64.50L143.85 62.05L143.85 66.95Z" fill="#e8282c" fill-opacity="0.7"/>
<path d="M160.85 84.40L165.35 81.95L165.35 86.85Z" fill="#e8282c" fill-opacity="0.7"/>
<path d="M170.75 83.50L175.25 81.05L175.25 85.95Z" fill="#e8282c" fill-opacity="0.7"/>
<path d="M166.55 65.60L171.05 63.15L171.05 68.05Z" fill="#e8282c" fill-opacity="0.7"/>
<path d="M190.15 78.00L194.65 75.55L194.65 80.45Z" fill="#e8282c" fill-opacity="0.7"/>
<path d="M181.55 78.70L186.05 76.25L186.05 81.15Z" fill="#e8282c" fill-opacity="0.7"/>
<path d="M197.55 87.40L202.05 84.95L202.05 89.85Z" fill="#e8282c" fill-opacity="0.7"/>
<path d="M182.95 92.40L187.45 89.95L187.45 94.85Z" fill="#e8282c" fill-opacity="0.7"/>
<path d="M171.15 96.50L175.65 94.05L175.65 98.95Z" fill="#e8282c" fill-opacity="0.7"/>
<path d="M182.05 100.60L186.55 98.15L186.55 103.05Z" fill="#e8282c" fill-opacity="0.7"/>
<path d="M137.25 82.30L141.75 79.85L141.75 84.75Z" fill="#e8282c" fill-opacity="0.7"/>
<path d="M135.05 85.20L139.55 82.75L139.55 87.65Z" fill="#e8282c" fill-opacity="0.7"/>
<path d="M133.65 88.80L138.15 86.35L138.15 91.25Z" fill="#e8282c" fill-opacity="0.7"/>
<path d="M154.45 82.00L158.95 79.55L158.95 84.45Z" fill="#e8282c" fill-opacity="0.7"/>
<rect x="132.60" y="47.80" width="5.60" height="5.60" fill="none" fill-opacity="0.5" stroke="#2ca02c" stroke-width="1.3" stroke-opacity="1.0"/>
<rect x="112.00" y="46.50" width="5.60" height="5.60" fill="#4169e1" fill-opacity="0.5" stroke="#2ca02c" stroke-width="1.3" stroke-opacity="1.0"/>
<rect x="107.10" y="55.60" width="5.60" height="5.60" fill="#4169e1" fill-opacity="0.5" stroke="#2ca02c" stroke-width="1.3" stroke-opacity="1.0"/>
<rect x="98.80" y="85.20" width="5.60" height="5.60" fill="#4169e1" fill-opacity="0.5" stroke="#2ca02c" stroke-width="1.3" stroke-opacity="1.0"/>
<rect x="133.40" y="91.10" width="5.60" height="5.60" fill="#4169e1" fill-opacity="0.5" stroke="#2ca02c" stroke-width="1.3" stroke-opacity="1.0"/>
<rect x="138.30" y="57.50" width="5.60" height="5.60" fill="#4169e1" fill-opacity="0.5" stroke="#2ca02c" stroke-width="1.3" stroke-opacity="1.0"/>
<rect x="142.10" y="77.10" width="5.60" height="5.60" fill="#4169e1" fill-opacity="0.5" stroke="#2ca02c" stroke-width="1.3" stroke-opacity="1.0"/>
<rect x="148.70" y="77.10" width="5.60" height="5.60" fill="#4169e1" fill-opacity="0.5" stroke="#2ca02c" stroke-width="1.3" stroke-opacity="1.0"/>
<rect x="178.00" y="71.20" width="5.60" height="5.60" fill="#4169e1" fill-opacity="0.5" stroke="#2ca02c" stroke-width="1.3" stroke-opacity="1.0"/>
<rect x="161.60" y="87.20" width="5.60" height="5.60" fill="#4169e1" fill-opacity="0.5" stroke="#2ca02c" stroke-width="1.3" stroke-opacity="1.0"/>
<rect x="173.00" y="84.70" width="5.60" height="5.60" fill="#4169e1" fill-opacity="0.5" stroke="#2ca02c" stroke-width="1.3" stroke-opacity="1.0"/>
<rect x="145.60" y="69.10" width="5.60" height="5.60" fill="none" fill-opacity="0.5" stroke="#2ca02c" stroke-width="1.3" stroke-opacity="1.0"/>
<rect x="151.50" y="72.60" width="5.60" height="5.60" fill="none" fill-opacity="0.5" stroke="#2ca02c" stroke-width="1.3" stroke-opacity="0.55"/>
<rect x="158.30" y="74.50" width="5.60" height="5.60" fill="none" fill-opacity="0.5" stroke="#2ca02c" stroke-width="1.3" stroke-opacity="0.55"/>
<rect x="163.70" y="76.80" width="5.60" height="5.60" fill="none" fill-opacity="0.5" stroke="#2ca02c" stroke-width="1.3" stroke-opacity="0.55"/>
<path d="M138.00 57.20L144.20 63.40M138.00 63.40L144.20 57.20" stroke="#ff7f0e" stroke-width="1.2" stroke-opacity="0.85" fill="none"/>
<path d="M269.00 33.00L275.20 39.20M269.00 39.20L275.20 33.00" stroke="#ff7f0e" stroke-width="1.2" stroke-opacity="0.85" fill="none"/>
<path d="M302.60 34.60L308.80 40.80M302.60 40.80L308.80 34.60" stroke="#ff7f0e" stroke-width="1.2" stroke-opacity="0.85" fill="none"/>
<path d="M264.00 73.00L270.20 79.20M264.00 79.20L270.20 73.00" stroke="#ff7f0e" stroke-width="1.2" stroke-opacity="0.85" fill="none"/>
<path d="M286.40 71.70L292.60 77.90M286.40 77.90L292.60 71.70" stroke="#ff7f0e" stroke-width="1.2" stroke-opacity="0.85" fill="none"/>
<path d="M281.10 133.50L287.30 139.70M281.10 139.70L287.30 133.50" stroke="#ff7f0e" stroke-width="1.2" stroke-opacity="0.85" fill="none"/>
<path d="M225.30 235.30L231.50 241.50M225.30 241.50L231.50 235.30" stroke="#ff7f0e" stroke-width="1.2" stroke-opacity="0.85" fill="none"/>
</g>
<path d="M75.40 253.75v-4.6M75.40 6.90v4.6M121.10 253.75v-4.6M121.10 6.90v4.6M166.80 253.75v-4.6M166.80 6.90v4.6M212.50 253.75v-4.6M212.50 6.90v4.6M258.20 253.75v-4.6M258.20 6.90v4.6M303.90 253.75v-4.6M303.90 6.90v4.6M349.60 253.75v-4.6M349.60 6.90v4.6M52.60 36.40h4.6M349.80 36.40h-4.6M52.60 75.94h4.6M349.80 75.94h-4.6M52.60 115.48h4.6M349.80 115.48h-4.6M52.60 155.02h4.6M349.80 155.02h-4.6M52.60 194.56h4.6M349.80 194.56h-4.6M52.60 234.10h4.6M349.80 234.10h-4.6" stroke="#000" stroke-width="1.15" fill="none"/>
<path d="M57.12 253.75v-2.4M57.12 6.90v2.4M66.26 253.75v-2.4M66.26 6.90v2.4M84.54 253.75v-2.4M84.54 6.90v2.4M93.68 253.75v-2.4M93.68 6.90v2.4M102.82 253.75v-2.4M102.82 6.90v2.4M111.96 253.75v-2.4M111.96 6.90v2.4M130.24 253.75v-2.4M130.24 6.90v2.4M139.38 253.75v-2.4M139.38 6.90v2.4M148.52 253.75v-2.4M148.52 6.90v2.4M157.66 253.75v-2.4M157.66 6.90v2.4M175.94 253.75v-2.4M175.94 6.90v2.4M185.08 253.75v-2.4M185.08 6.90v2.4M194.22 253.75v-2.4M194.22 6.90v2.4M203.36 253.75v-2.4M203.36 6.90v2.4M221.64 253.75v-2.4M221.64 6.90v2.4M230.78 253.75v-2.4M230.78 6.90v2.4M239.92 253.75v-2.4M239.92 6.90v2.4M249.06 253.75v-2.4M249.06 6.90v2.4M267.34 253.75v-2.4M267.34 6.90v2.4M276.48 253.75v-2.4M276.48 6.90v2.4M285.62 253.75v-2.4M285.62 6.90v2.4M294.76 253.75v-2.4M294.76 6.90v2.4M313.04 253.75v-2.4M313.04 6.90v2.4M322.18 253.75v-2.4M322.18 6.90v2.4M331.32 253.75v-2.4M331.32 6.90v2.4M340.46 253.75v-2.4M340.46 6.90v2.4M52.60 12.68h2.4M349.80 12.68h-2.4M52.60 20.58h2.4M349.80 20.58h-2.4M52.60 28.49h2.4M349.80 28.49h-2.4M52.60 44.31h2.4M349.80 44.31h-2.4M52.60 52.22h2.4M349.80 52.22h-2.4M52.60 60.12h2.4M349.80 60.12h-2.4M52.60 68.03h2.4M349.80 68.03h-2.4M52.60 83.85h2.4M349.80 83.85h-2.4M52.60 91.76h2.4M349.80 91.76h-2.4M52.60 99.66h2.4M349.80 99.66h-2.4M52.60 107.57h2.4M349.80 107.57h-2.4M52.60 123.39h2.4M349.80 123.39h-2.4M52.60 131.30h2.4M349.80 131.30h-2.4M52.60 139.20h2.4M349.80 139.20h-2.4M52.60 147.11h2.4M349.80 147.11h-2.4M52.60 162.93h2.4M349.80 162.93h-2.4M52.60 170.84h2.4M349.80 170.84h-2.4M52.60 178.74h2.4M349.80 178.74h-2.4M52.60 186.65h2.4M349.80 186.65h-2.4M52.60 202.47h2.4M349.80 202.47h-2.4M52.60 210.38h2.4M349.80 210.38h-2.4M52.60 218.28h2.4M349.80 218.28h-2.4M52.60 226.19h2.4M349.80 226.19h-2.4M52.60 242.01h2.4M349.80 242.01h-2.4M52.60 249.92h2.4M349.80 249.92h-2.4" stroke="#000" stroke-width="1.05" fill="none"/>
<rect x="52.60" y="6.90" width="297.20" height="246.85" fill="none" stroke="#1c1c1c" stroke-width="1.4"/>
<text x="75.40" y="267.10" font-size="12.76" text-anchor="middle" textLength="27.23" lengthAdjust="spacingAndGlyphs" fill="#000" stroke="#000" stroke-width="0.25" >-120</text>
<text x="121.10" y="267.10" font-size="12.76" text-anchor="middle" textLength="27.23" lengthAdjust="spacingAndGlyphs" fill="#000" stroke="#000" stroke-width="0.25" >-100</text>
<text x="166.80" y="267.10" font-size="12.76" text-anchor="middle" textLength="19.60" lengthAdjust="spacingAndGlyphs" fill="#000" stroke="#000" stroke-width="0.25" >-80</text>
<text x="212.50" y="267.10" font-size="12.76" text-anchor="middle" textLength="19.60" lengthAdjust="spacingAndGlyphs" fill="#000" stroke="#000" stroke-width="0.25" >-60</text>
<text x="258.20" y="267.10" font-size="12.76" text-anchor="middle" textLength="19.60" lengthAdjust="spacingAndGlyphs" fill="#000" stroke="#000" stroke-width="0.25" >-40</text>
<text x="303.90" y="267.10" font-size="12.76" text-anchor="middle" textLength="19.60" lengthAdjust="spacingAndGlyphs" fill="#000" stroke="#000" stroke-width="0.25" >-20</text>
<text x="349.60" y="267.10" font-size="12.76" text-anchor="middle" textLength="7.63" lengthAdjust="spacingAndGlyphs" fill="#000" stroke="#000" stroke-width="0.25" >0</text>
<text x="46.30" y="40.70" font-size="12.76" text-anchor="end" textLength="7.63" lengthAdjust="spacingAndGlyphs" fill="#000" stroke="#000" stroke-width="0.25" >0</text>
<text x="46.30" y="80.24" font-size="12.76" text-anchor="end" textLength="15.27" lengthAdjust="spacingAndGlyphs" fill="#000" stroke="#000" stroke-width="0.25" >20</text>
<text x="46.30" y="119.78" font-size="12.76" text-anchor="end" textLength="15.27" lengthAdjust="spacingAndGlyphs" fill="#000" stroke="#000" stroke-width="0.25" >40</text>
<text x="46.30" y="159.32" font-size="12.76" text-anchor="end" textLength="15.27" lengthAdjust="spacingAndGlyphs" fill="#000" stroke="#000" stroke-width="0.25" >60</text>
<text x="46.30" y="198.86" font-size="12.76" text-anchor="end" textLength="15.27" lengthAdjust="spacingAndGlyphs" fill="#000" stroke="#000" stroke-width="0.25" >80</text>
<text x="46.30" y="238.40" font-size="12.76" text-anchor="end" textLength="22.90" lengthAdjust="spacingAndGlyphs" fill="#000" stroke="#000" stroke-width="0.25" >100</text>
<text x="201.00" y="279.40" font-size="12.76" text-anchor="middle" textLength="34.72" lengthAdjust="spacingAndGlyphs" fill="#000" stroke="#000" stroke-width="0.25" >Y (pc)</text>
<text x="14.40" y="130.80" font-size="12.76" text-anchor="middle" textLength="35.61" lengthAdjust="spacingAndGlyphs" fill="#000" stroke="#000" stroke-width="0.25" transform="rotate(-90 14.4 130.8)">X (pc)</text>
<text x="314.40" y="123.70" font-size="11.17" text-anchor="start" textLength="29.14" lengthAdjust="spacingAndGlyphs" fill="#7f7f7f"  >50 pc</text>
<text x="304.00" y="222.50" font-size="11.17" text-anchor="start" textLength="35.82" lengthAdjust="spacingAndGlyphs" fill="#7f7f7f"  >100 pc</text>
<rect x="61.5" y="174.3" width="140.6" height="70.69999999999999" fill="#fff" stroke="#000" stroke-width="1.3"/>
<path d="M66.40 185.00L70.80 182.47L70.80 187.53Z" fill="#d62728" fill-opacity="1.0"/>
<rect x="65.90" y="194.70" width="5.40" height="5.40" fill="none" fill-opacity="0.5" stroke="#7f7f7f" stroke-width="1.2" stroke-opacity="1.0"/>
<rect x="65.90" y="207.20" width="5.40" height="5.40" fill="none" fill-opacity="0.5" stroke="#2ca02c" stroke-width="1.2" stroke-opacity="1.0"/>
<circle cx="68.60" cy="222.30" r="2.9" fill="#1f77b4" fill-opacity="1.0"/>
<path d="M65.40 231.60L71.80 238.00M65.40 238.00L71.80 231.60" stroke="#ff7f0e" stroke-width="1.2" stroke-opacity="1.0" fill="none"/>
<text x="76.00" y="188.60" font-size="9.57" text-anchor="start" textLength="115.30" lengthAdjust="spacingAndGlyphs" fill="#e3242b"  >Volans-Carina association</text>
<text x="76.00" y="201.00" font-size="9.57" text-anchor="start" textLength="44.79" lengthAdjust="spacingAndGlyphs" fill="#7f7f7f"  >Theia 424</text>
<text x="76.00" y="213.50" font-size="9.57" text-anchor="start" textLength="119.63" lengthAdjust="spacingAndGlyphs" fill="#2ca02c"  >Theia 424 (UVW selection)</text>
<text x="76.00" y="225.90" font-size="9.57" text-anchor="start" textLength="42.92" lengthAdjust="spacingAndGlyphs" fill="#1f77b4"  >Crius 221</text>
<text x="76.00" y="238.40" font-size="9.57" text-anchor="start" textLength="58.17" lengthAdjust="spacingAndGlyphs" fill="#ff7f0e"  >UVW outliers</text>
<g clip-path="url(#cr)">
<ellipse cx="565.74" cy="130.07" rx="44.61" ry="36.90" fill="none" stroke="#626262" stroke-width="1.15" stroke-dasharray="4.7 4.305" stroke-dashoffset="8.44"/>
<rect x="595.40" y="38.80" width="5.60" height="5.60" fill="none" fill-opacity="0.5" stroke="#7f7f7f" stroke-width="1.0" stroke-opacity="0.75"/>
<rect x="653.80" y="29.00" width="5.60" height="5.60" fill="none" fill-opacity="0.5" stroke="#7f7f7f" stroke-width="1.0" stroke-opacity="0.75"/>
<rect x="668.00" y="37.70" width="5.60" height="5.60" fill="none" fill-opacity="0.5" stroke="#7f7f7f" stroke-width="1.0" stroke-opacity="0.75"/>
<rect x="640.60" y="85.40" width="5.60" height="5.60" fill="none" fill-opacity="0.5" stroke="#7f7f7f" stroke-width="1.0" stroke-opacity="0.75"/>
<rect x="684.60" y="81.60" width="5.60" height="5.60" fill="none" fill-opacity="0.5" stroke="#7f7f7f" stroke-width="1.0" stroke-opacity="0.75"/>
<rect x="709.60" y="97.50" width="5.60" height="5.60" fill="none" fill-opacity="0.5" stroke="#7f7f7f" stroke-width="1.0" stroke-opacity="0.75"/>
<rect x="664.00" y="142.70" width="5.60" height="5.60" fill="none" fill-opacity="0.5" stroke="#7f7f7f" stroke-width="1.0" stroke-opacity="0.75"/>
<rect x="606.00" y="137.60" width="5.60" height="5.60" fill="none" fill-opacity="0.5" stroke="#7f7f7f" stroke-width="1.0" stroke-opacity="0.75"/>
<rect x="639.00" y="183.40" width="5.60" height="5.60" fill="none" fill-opacity="0.5" stroke="#7f7f7f" stroke-width="1.0" stroke-opacity="0.75"/>
<rect x="491.20" y="117.20" width="5.60" height="5.60" fill="none" fill-opacity="0.5" stroke="#7f7f7f" stroke-width="1.0" stroke-opacity="0.75"/>
<rect x="518.40" y="103.20" width="5.60" height="5.60" fill="none" fill-opacity="0.5" stroke="#7f7f7f" stroke-width="1.0" stroke-opacity="0.75"/>
<rect x="527.10" y="151.40" width="5.60" height="5.60" fill="none" fill-opacity="0.5" stroke="#7f7f7f" stroke-width="1.0" stroke-opacity="0.75"/>
<rect x="630.40" y="148.60" width="5.60" height="5.60" fill="none" fill-opacity="0.5" stroke="#7f7f7f" stroke-width="1.0" stroke-opacity="0.45"/>
<rect x="617.10" y="163.50" width="5.60" height="5.60" fill="none" fill-opacity="0.5" stroke="#7f7f7f" stroke-width="1.0" stroke-opacity="0.45"/>
<rect x="661.90" y="59.50" width="5.60" height="5.60" fill="none" fill-opacity="0.5" stroke="#7f7f7f" stroke-width="1.0" stroke-opacity="0.45"/>
<circle cx="525.40" cy="123.70" r="3.0" fill="#1f77b4" fill-opacity="0.48"/>
<circle cx="543.10" cy="89.70" r="3.0" fill="#1f77b4" fill-opacity="0.48"/>
<circle cx="555.90" cy="98.30" r="3.0" fill="#1f77b4" fill-opacity="0.48"/>
<circle cx="544.00" cy="109.10" r="3.0" fill="#1f77b4" fill-opacity="0.48"/>
<circle cx="555.70" cy="109.30" r="3.0" fill="#1f77b4" fill-opacity="0.48"/>
<circle cx="567.10" cy="106.60" r="3.0" fill="#1f77b4" fill-opacity="0.48"/>
<circle cx="575.30" cy="102.80" r="3.0" fill="#1f77b4" fill-opacity="0.48"/>
<circle cx="573.90" cy="105.20" r="3.0" fill="#1f77b4" fill-opacity="0.48"/>
<circle cx="560.70" cy="111.60" r="3.0" fill="#1f77b4" fill-opacity="0.48"/>
<circle cx="558.60" cy="115.30" r="3.0" fill="#1f77b4" fill-opacity="0.48"/>
<circle cx="564.80" cy="116.60" r="3.0" fill="#1f77b4" fill-opacity="0.48"/>
<circle cx="561.50" cy="119.90" r="3.0" fill="#1f77b4" fill-opacity="0.48"/>
<circle cx="559.00" cy="121.50" r="3.0" fill="#1f77b4" fill-opacity="0.48"/>
<circle cx="567.30" cy="120.70" r="3.0" fill="#1f77b4" fill-opacity="0.48"/>
<circle cx="573.50" cy="121.90" r="3.0" fill="#1f77b4" fill-opacity="0.48"/>
<circle cx="577.70" cy="115.30" r="3.0" fill="#1f77b4" fill-opacity="0.48"/>
<circle cx="581.00" cy="115.70" r="3.0" fill="#1f77b4" fill-opacity="0.48"/>
<circle cx="584.30" cy="116.60" r="3.0" fill="#1f77b4" fill-opacity="0.48"/>
<circle cx="570.60" cy="112.40" r="3.0" fill="#1f77b4" fill-opacity="0.48"/>
<circle cx="589.70" cy="120.60" r="3.0" fill="#1f77b4" fill-opacity="0.48"/>
<circle cx="541.70" cy="121.20" r="3.0" fill="#1f77b4" fill-opacity="0.48"/>
<circle cx="551.40" cy="120.00" r="3.0" fill="#1f77b4" fill-opacity="0.48"/>
<circle cx="585.90" cy="128.20" r="3.0" fill="#1f77b4" fill-opacity="0.48"/>
<circle cx="554.90" cy="127.40" r="3.0" fill="#1f77b4" fill-opacity="0.48"/>
<circle cx="557.40" cy="125.80" r="3.0" fill="#1f77b4" fill-opacity="0.48"/>
<circle cx="581.40" cy="133.60" r="3.0" fill="#1f77b4" fill-opacity="0.48"/>
<circle cx="583.00" cy="134.90" r="3.0" fill="#1f77b4" fill-opacity="0.48"/>
<circle cx="575.60" cy="125.80" r="3.0" fill="#1f77b4" fill-opacity="0.48"/>
<circle cx="571.50" cy="126.20" r="3.0" fill="#1f77b4" fill-opacity="0.48"/>
<circle cx="556.40" cy="139.50" r="3.0" fill="#1f77b4" fill-opacity="0.48"/>
<circle cx="553.60" cy="138.10" r="3.0" fill="#1f77b4" fill-opacity="0.48"/>
<circle cx="575.70" cy="137.40" r="3.0" fill="#1f77b4" fill-opacity="0.48"/>
<circle cx="587.40" cy="142.90" r="3.0" fill="#1f77b4" fill-opacity="0.48"/>
<circle cx="592.90" cy="142.90" r="3.0" fill="#1f77b4" fill-opacity="0.48"/>
<circle cx="542.30" cy="133.30" r="3.0" fill="#1f77b4" fill-opacity="0.48"/>
<circle cx="602.10" cy="127.00" r="3.0" fill="#1f77b4" fill-opacity="0.48"/>
<circle cx="609.40" cy="145.80" r="3.0" fill="#1f77b4" fill-opacity="0.48"/>
<circle cx="521.00" cy="128.60" r="3.0" fill="#1f77b4" fill-opacity="0.48"/>
<circle cx="562.30" cy="114.50" r="3.0" fill="#1f77b4" fill-opacity="0.48"/>
<circle cx="561.70" cy="110.80" r="3.0" fill="#1f77b4" fill-opacity="0.48"/>
<circle cx="566.00" cy="113.80" r="3.0" fill="#1f77b4" fill-opacity="0.48"/>
<circle cx="563.50" cy="118.00" r="3.0" fill="#1f77b4" fill-opacity="0.48"/>
<circle cx="568.50" cy="117.50" r="3.0" fill="#1f77b4" fill-opacity="0.48"/>
<circle cx="560.00" cy="117.00" r="3.0" fill="#1f77b4" fill-opacity="0.48"/>
<circle cx="566.00" cy="123.50" r="3.0" fill="#1f77b4" fill-opacity="0.48"/>
<circle cx="561.00" cy="125.00" r="3.0" fill="#1f77b4" fill-opacity="0.48"/>
<circle cx="578.50" cy="128.00" r="3.0" fill="#1f77b4" fill-opacity="0.48"/>
<circle cx="582.00" cy="124.00" r="3.0" fill="#1f77b4" fill-opacity="0.48"/>
<circle cx="547.00" cy="126.00" r="3.0" fill="#1f77b4" fill-opacity="0.48"/>
<rect x="582.00" y="106.10" width="5.60" height="5.60" fill="none" fill-opacity="0.5" stroke="#2ca02c" stroke-width="1.2" stroke-opacity="1.0"/>
<rect x="531.20" y="122.40" width="5.60" height="5.60" fill="none" fill-opacity="0.5" stroke="#2ca02c" stroke-width="1.2" stroke-opacity="1.0"/>
<rect x="527.90" y="126.50" width="5.60" height="5.60" fill="none" fill-opacity="0.5" stroke="#2ca02c" stroke-width="1.2" stroke-opacity="1.0"/>
<rect x="536.90" y="126.00" width="5.60" height="5.60" fill="none" fill-opacity="0.5" stroke="#2ca02c" stroke-width="1.2" stroke-opacity="1.0"/>
<rect x="547.80" y="121.00" width="5.60" height="5.60" fill="none" fill-opacity="0.5" stroke="#2ca02c" stroke-width="1.2" stroke-opacity="1.0"/>
<rect x="548.80" y="132.10" width="5.60" height="5.60" fill="none" fill-opacity="0.5" stroke="#2ca02c" stroke-width="1.2" stroke-opacity="1.0"/>
<rect x="559.60" y="127.10" width="5.60" height="5.60" fill="none" fill-opacity="0.5" stroke="#2ca02c" stroke-width="1.2" stroke-opacity="1.0"/>
<rect x="567.00" y="130.80" width="5.60" height="5.60" fill="none" fill-opacity="0.5" stroke="#2ca02c" stroke-width="1.2" stroke-opacity="1.0"/>
<rect x="575.30" y="130.40" width="5.60" height="5.60" fill="none" fill-opacity="0.5" stroke="#2ca02c" stroke-width="1.2" stroke-opacity="1.0"/>
<rect x="589.40" y="132.90" width="5.60" height="5.60" fill="none" fill-opacity="0.5" stroke="#2ca02c" stroke-width="1.2" stroke-opacity="1.0"/>
<rect x="562.00" y="128.40" width="5.60" height="5.60" fill="none" fill-opacity="0.5" stroke="#2ca02c" stroke-width="1.2" stroke-opacity="1.0"/>
<rect x="569.80" y="130.00" width="5.60" height="5.60" fill="none" fill-opacity="0.5" stroke="#2ca02c" stroke-width="1.2" stroke-opacity="1.0"/>
<rect x="569.10" y="105.40" width="5.60" height="5.60" fill="none" fill-opacity="0.5" stroke="#2ca02c" stroke-width="1.2" stroke-opacity="1.0"/>
<rect x="587.00" y="124.80" width="5.60" height="5.60" fill="none" fill-opacity="0.5" stroke="#2ca02c" stroke-width="1.2" stroke-opacity="1.0"/>
<rect x="584.10" y="134.90" width="5.60" height="5.60" fill="none" fill-opacity="0.5" stroke="#2ca02c" stroke-width="1.2" stroke-opacity="1.0"/>
<rect x="560.20" y="137.40" width="5.60" height="5.60" fill="none" fill-opacity="0.5" stroke="#2ca02c" stroke-width="1.2" stroke-opacity="1.0"/>
<path d="M519.20 106.00L523.20 103.90L523.20 108.10Z" fill="#d62728" fill-opacity="1.0"/>
<path d="M527.90 154.20L531.90 152.10L531.90 156.30Z" fill="#d62728" fill-opacity="1.0"/>
<path d="M596.50 95.90L600.50 93.80L600.50 98.00Z" fill="#d62728" fill-opacity="1.0"/>
<path d="M587.40 106.40L591.40 104.30L591.40 108.50Z" fill="#d62728" fill-opacity="1.0"/>
<path d="M582.80 108.90L586.80 106.80L586.80 111.00Z" fill="#d62728" fill-opacity="1.0"/>
<path d="M532.00 125.20L536.00 123.10L536.00 127.30Z" fill="#d62728" fill-opacity="1.0"/>
<path d="M528.70 129.30L532.70 127.20L532.70 131.40Z" fill="#d62728" fill-opacity="1.0"/>
<path d="M537.70 128.80L541.70 126.70L541.70 130.90Z" fill="#d62728" fill-opacity="1.0"/>
<path d="M548.60 123.80L552.60 121.70L552.60 125.90Z" fill="#d62728" fill-opacity="1.0"/>
<path d="M549.60 134.90L553.60 132.80L553.60 137.00Z" fill="#d62728" fill-opacity="1.0"/>
<path d="M560.40 129.90L564.40 127.80L564.40 132.00Z" fill="#d62728" fill-opacity="1.0"/>
<path d="M562.00 128.20L566.00 126.10L566.00 130.30Z" fill="#d62728" fill-opacity="1.0"/>
<path d="M567.80 133.60L571.80 131.50L571.80 135.70Z" fill="#d62728" fill-opacity="1.0"/>
<path d="M569.50 132.40L573.50 130.30L573.50 134.50Z" fill="#d62728" fill-opacity="1.0"/>
<path d="M576.10 133.20L580.10 131.10L580.10 135.30Z" fill="#d62728" fill-opacity="1.0"/>
<path d="M590.20 135.70L594.20 133.60L594.20 137.80Z" fill="#d62728" fill-opacity="1.0"/>
<path d="M559.50 131.50L563.50 129.40L563.50 133.60Z" fill="#d62728" fill-opacity="1.0"/>
<path d="M563.50 129.30L567.50 127.20L567.50 131.40Z" fill="#d62728" fill-opacity="1.0"/>
<path d="M561.50 132.50L565.50 130.40L565.50 134.60Z" fill="#d62728" fill-opacity="1.0"/>
<path d="M566.00 134.50L570.00 132.40L570.00 136.60Z" fill="#d62728" fill-opacity="1.0"/>
<path d="M570.30 131.60L574.30 129.50L574.30 133.70Z" fill="#d62728" fill-opacity="1.0"/>
<path d="M568.50 135.20L572.50 133.10L572.50 137.30Z" fill="#d62728" fill-opacity="1.0"/>
<path d="M540.00 86.60L546.20 92.80M540.00 92.80L546.20 86.60" stroke="#ff7f0e" stroke-width="1.2" stroke-opacity="0.85" fill="none"/>
<path d="M572.40 106.80L578.60 113.00M572.40 113.00L578.60 106.80" stroke="#ff7f0e" stroke-width="1.2" stroke-opacity="0.85" fill="none"/>
<path d="M559.20 111.40L565.40 117.60M559.20 117.60L565.40 111.40" stroke="#ff7f0e" stroke-width="1.2" stroke-opacity="0.85" fill="none"/>
<path d="M517.90 125.50L524.10 131.70M517.90 131.70L524.10 125.50" stroke="#ff7f0e" stroke-width="1.2" stroke-opacity="0.85" fill="none"/>
<path d="M544.80 131.80L551.00 138.00M544.80 138.00L551.00 131.80" stroke="#ff7f0e" stroke-width="1.2" stroke-opacity="0.85" fill="none"/>
<path d="M599.00 123.90L605.20 130.10M599.00 130.10L605.20 123.90" stroke="#ff7f0e" stroke-width="1.2" stroke-opacity="0.85" fill="none"/>
<path d="M606.30 142.70L612.50 148.90M606.30 148.90L612.50 142.70" stroke="#ff7f0e" stroke-width="1.2" stroke-opacity="0.85" fill="none"/>
</g>
<path d="M456.15 253.75v-4.6M456.15 6.90v4.6M530.50 253.75v-4.6M530.50 6.90v4.6M604.85 253.75v-4.6M604.85 6.90v4.6M679.20 253.75v-4.6M679.20 6.90v4.6M416.95 236.10h4.6M714.45 236.10h-4.6M416.95 174.60h4.6M714.45 174.60h-4.6M416.95 113.10h4.6M714.45 113.10h-4.6M416.95 51.60h4.6M714.45 51.60h-4.6" stroke="#000" stroke-width="1.15" fill="none"/>
<path d="M426.41 253.75v-2.4M426.41 6.90v2.4M441.28 253.75v-2.4M441.28 6.90v2.4M471.02 253.75v-2.4M471.02 6.90v2.4M485.89 253.75v-2.4M485.89 6.90v2.4M500.76 253.75v-2.4M500.76 6.90v2.4M515.63 253.75v-2.4M515.63 6.90v2.4M545.37 253.75v-2.4M545.37 6.90v2.4M560.24 253.75v-2.4M560.24 6.90v2.4M575.11 253.75v-2.4M575.11 6.90v2.4M589.98 253.75v-2.4M589.98 6.90v2.4M619.72 253.75v-2.4M619.72 6.90v2.4M634.59 253.75v-2.4M634.59 6.90v2.4M649.46 253.75v-2.4M649.46 6.90v2.4M664.33 253.75v-2.4M664.33 6.90v2.4M694.07 253.75v-2.4M694.07 6.90v2.4M708.94 253.75v-2.4M708.94 6.90v2.4M416.95 248.40h2.4M714.45 248.40h-2.4M416.95 223.80h2.4M714.45 223.80h-2.4M416.95 211.50h2.4M714.45 211.50h-2.4M416.95 199.20h2.4M714.45 199.20h-2.4M416.95 186.90h2.4M714.45 186.90h-2.4M416.95 162.30h2.4M714.45 162.30h-2.4M416.95 150.00h2.4M714.45 150.00h-2.4M416.95 137.70h2.4M714.45 137.70h-2.4M416.95 125.40h2.4M714.45 125.40h-2.4M416.95 100.80h2.4M714.45 100.80h-2.4M416.95 88.50h2.4M714.45 88.50h-2.4M416.95 76.20h2.4M714.45 76.20h-2.4M416.95 63.90h2.4M714.45 63.90h-2.4M416.95 39.30h2.4M714.45 39.30h-2.4M416.95 27.00h2.4M714.45 27.00h-2.4M416.95 14.70h2.4M714.45 14.70h-2.4" stroke="#000" stroke-width="1.05" fill="none"/>
<rect x="416.95" y="6.90" width="297.50" height="246.85" fill="none" stroke="#1c1c1c" stroke-width="1.4"/>
<text x="456.15" y="267.10" font-size="12.76" text-anchor="middle" textLength="19.60" lengthAdjust="spacingAndGlyphs" fill="#000" stroke="#000" stroke-width="0.25" >-35</text>
<text x="530.50" y="267.10" font-size="12.76" text-anchor="middle" textLength="19.60" lengthAdjust="spacingAndGlyphs" fill="#000" stroke="#000" stroke-width="0.25" >-30</text>
<text x="604.85" y="267.10" font-size="12.76" text-anchor="middle" textLength="19.60" lengthAdjust="spacingAndGlyphs" fill="#000" stroke="#000" stroke-width="0.25" >-25</text>
<text x="679.20" y="267.10" font-size="12.76" text-anchor="middle" textLength="19.60" lengthAdjust="spacingAndGlyphs" fill="#000" stroke="#000" stroke-width="0.25" >-20</text>
<text x="410.60" y="240.40" font-size="12.76" text-anchor="end" textLength="19.60" lengthAdjust="spacingAndGlyphs" fill="#000" stroke="#000" stroke-width="0.25" >-25</text>
<text x="410.60" y="178.90" font-size="12.76" text-anchor="end" textLength="19.60" lengthAdjust="spacingAndGlyphs" fill="#000" stroke="#000" stroke-width="0.25" >-20</text>
<text x="410.60" y="117.40" font-size="12.76" text-anchor="end" textLength="19.60" lengthAdjust="spacingAndGlyphs" fill="#000" stroke="#000" stroke-width="0.25" >-15</text>
<text x="410.60" y="55.90" font-size="12.76" text-anchor="end" textLength="19.60" lengthAdjust="spacingAndGlyphs" fill="#000" stroke="#000" stroke-width="0.25" >-10</text>
<text x="565.30" y="278.90" font-size="12.76" text-anchor="middle" textLength="50.32" lengthAdjust="spacingAndGlyphs" fill="#000" stroke="#000" stroke-width="0.25" >V (km/s)</text>
<text x="382.10" y="130.50" font-size="12.76" text-anchor="middle" textLength="50.89" lengthAdjust="spacingAndGlyphs" fill="#000" stroke="#000" stroke-width="0.25" transform="rotate(-90 382.1 130.5)">U (km/s)</text>
<text x="538.20" y="180.90" font-size="11.17" text-anchor="start" textLength="35.14" lengthAdjust="spacingAndGlyphs" fill="#7f7f7f"  >3 km s</text>
<text x="573.6" y="175.2" font-size="7.82" textLength="8.7" lengthAdjust="spacingAndGlyphs" fill="#7f7f7f">&#8722;1</text>
<rect x="425.9" y="14.1" width="132.39999999999998" height="67.30000000000001" fill="#fff" stroke="#000" stroke-width="1.3"/>
<path d="M430.90 24.40L435.10 21.98L435.10 26.81Z" fill="#d62728" fill-opacity="1.0"/>
<rect x="430.40" y="33.60" width="5.20" height="5.20" fill="none" fill-opacity="0.5" stroke="#7f7f7f" stroke-width="1.15" stroke-opacity="1.0"/>
<rect x="430.40" y="45.50" width="5.20" height="5.20" fill="none" fill-opacity="0.5" stroke="#2ca02c" stroke-width="1.15" stroke-opacity="1.0"/>
<circle cx="433.00" cy="59.95" r="2.8" fill="#1f77b4" fill-opacity="1.0"/>
<path d="M430.00 68.60L436.00 74.60M430.00 74.60L436.00 68.60" stroke="#ff7f0e" stroke-width="1.15" stroke-opacity="1.0" fill="none"/>
<text x="440.60" y="27.50" font-size="8.72" text-anchor="start" textLength="105.05" lengthAdjust="spacingAndGlyphs" fill="#e3242b"  >Volans-Carina association</text>
<text x="440.60" y="39.30" font-size="8.72" text-anchor="start" textLength="40.81" lengthAdjust="spacingAndGlyphs" fill="#7f7f7f"  >Theia 424</text>
<text x="440.60" y="51.20" font-size="8.72" text-anchor="start" textLength="109.00" lengthAdjust="spacingAndGlyphs" fill="#2ca02c"  >Theia 424 (UVW selection)</text>
<text x="440.60" y="63.05" font-size="8.72" text-anchor="start" textLength="39.10" lengthAdjust="spacingAndGlyphs" fill="#1f77b4"  >Crius 221</text>
<text x="440.60" y="74.70" font-size="8.72" text-anchor="start" textLength="53.00" lengthAdjust="spacingAndGlyphs" fill="#ff7f0e"  >UVW outliers</text>
<g transform="scale(1.0)">
<text x="77.15" y="303.8" style="font-family:'Liberation Serif',serif" font-size="11.0" textLength="15.10" lengthAdjust="spacingAndGlyphs" fill="#141414">(a)</text>
<text x="98.45" y="303.8" style="font-family:'Liberation Serif',serif" font-size="11.0" textLength="74.30" lengthAdjust="spacingAndGlyphs" fill="#141414">Volans-Carina</text>
<text x="176.35" y="303.8" style="font-family:'Liberation Serif',serif" font-size="11.0" textLength="35.20" lengthAdjust="spacingAndGlyphs" fill="#141414">corona</text>
<text x="215.35" y="303.8" style="font-family:'Liberation Serif',serif" font-size="11.0" textLength="10.60" lengthAdjust="spacingAndGlyphs" fill="#141414">in</text>
<text x="229.75" y="303.8" style="font-family:'Liberation Serif',serif;font-style:italic" font-size="11.0" textLength="19.00" lengthAdjust="spacingAndGlyphs" fill="#141414">XY</text>
<text x="254.05" y="303.8" style="font-family:'Liberation Serif',serif" font-size="11.0" textLength="29.30" lengthAdjust="spacingAndGlyphs" fill="#141414">space</text>
<text x="442.65" y="303.8" style="font-family:'Liberation Serif',serif" font-size="11.0" textLength="15.90" lengthAdjust="spacingAndGlyphs" fill="#141414">(b)</text>
<text x="463.95" y="303.8" style="font-family:'Liberation Serif',serif" font-size="11.0" textLength="74.30" lengthAdjust="spacingAndGlyphs" fill="#141414">Volans-Carina</text>
<text x="542.95" y="303.8" style="font-family:'Liberation Serif',serif" font-size="11.0" textLength="35.20" lengthAdjust="spacingAndGlyphs" fill="#141414">corona</text>
<text x="581.65" y="303.8" style="font-family:'Liberation Serif',serif" font-size="11.0" textLength="10.60" lengthAdjust="spacingAndGlyphs" fill="#141414">in</text>
<text x="596.05" y="303.8" style="font-family:'Liberation Serif',serif;font-style:italic" font-size="11.0" textLength="17.40" lengthAdjust="spacingAndGlyphs" fill="#141414">UV</text>
<text x="618.85" y="303.8" style="font-family:'Liberation Serif',serif" font-size="11.0" textLength="28.80" lengthAdjust="spacingAndGlyphs" fill="#141414">space</text>
</g>
</svg>
</body></html>
